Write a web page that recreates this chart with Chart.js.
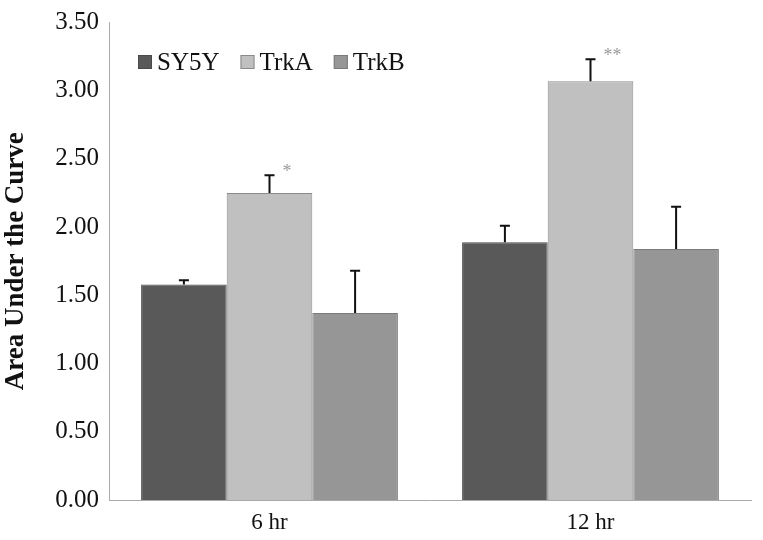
<!DOCTYPE html>
<html>
<head>
<meta charset="utf-8">
<script src="https://cdn.jsdelivr.net/npm/chart.js@4"></script>
<style>
html, body { margin: 0; padding: 0; background: #fff; }
#wrap { width: 763px; height: 540px; }
</style>
</head>
<body>
<div id="wrap"><canvas id="barChart" width="763" height="540"></canvas></div>
<script>
var categories = ["6 hr", "12 hr"];
var sy5y = [1.58, 1.89];
var trkA = [2.25, 3.07];
var trkB = [1.37, 1.84];
var sy5yErr = [0.03, 0.12];
var trkAErr = [0.13, 0.16];
var trkBErr = [0.31, 0.31];
var trkAMarks = ["*", "**"];

var serif = "'Liberation Serif', 'Times New Roman', serif";

// error bars (upper only) and significance marks
var errorBars = {
  id: 'errorBars',
  afterDatasetsDraw: function(chart) {
    var ctx = chart.ctx;
    var y = chart.scales.y;
    chart.data.datasets.forEach(function(ds, i) {
      var meta = chart.getDatasetMeta(i);
      meta.data.forEach(function(bar, j) {
        var top = y.getPixelForValue(ds.data[j] + ds.err[j]);
        ctx.save();
        ctx.strokeStyle = '#111';
        ctx.lineWidth = 2;
        ctx.beginPath();
        ctx.moveTo(bar.x, bar.y);
        ctx.lineTo(bar.x, top);
        ctx.moveTo(bar.x - 5, top);
        ctx.lineTo(bar.x + 5, top);
        ctx.stroke();
        if (ds.marks) {
          ctx.fillStyle = '#999';
          ctx.font = '18px ' + serif;
          ctx.textAlign = 'left';
          ctx.textBaseline = 'middle';
          ctx.fillText(ds.marks[j], bar.x + 13, top - 3);
        }
        ctx.restore();
      });
    });
  }
};

// horizontal legend inside the plot, top left
var insideLegend = {
  id: 'insideLegend',
  afterDraw: function(chart) {
    var ctx = chart.ctx;
    var x = chart.chartArea.left + 29;
    var cy = 62;
    ctx.save();
    ctx.font = '25px ' + serif;
    ctx.textBaseline = 'middle';
    ctx.textAlign = 'left';
    chart.data.datasets.forEach(function(ds) {
      ctx.fillStyle = ds.backgroundColor;
      ctx.fillRect(x, cy - 7, 14, 14);
      ctx.strokeStyle = ds.borderColor;
      ctx.lineWidth = 1;
      ctx.strokeRect(x + 0.5, cy - 6.5, 13, 13);
      ctx.fillStyle = '#111';
      ctx.fillText(ds.label, x + 19, cy + 1);
      x += 19 + ctx.measureText(ds.label).width + 21;
    });
    ctx.restore();
  }
};

var ctx = document.getElementById("barChart").getContext('2d');
var myBarChart = new Chart(ctx, {
  type: 'bar',
  data: {
    labels: categories,
    datasets: [{
      label: "SY5Y",
      data: sy5y,
      err: sy5yErr,
      backgroundColor: '#595959',
      borderColor: '#4a4a4a',
      borderWidth: 1
    },
    {
      label: "TrkA",
      data: trkA,
      err: trkAErr,
      marks: trkAMarks,
      backgroundColor: '#c0c0c0',
      borderColor: '#8a8a8a',
      borderWidth: 1
    },
    {
      label: "TrkB",
      data: trkB,
      err: trkBErr,
      backgroundColor: '#969696',
      borderColor: '#7a7a7a',
      borderWidth: 1
    }]
  },
  options: {
    responsive: false,
    animation: false,
    layout: { padding: { top: 20, right: 12, left: 0, bottom: 0 } },
    datasets: { bar: { categoryPercentage: 0.8, barPercentage: 1.0 } },
    plugins: {
      tooltip: { enabled: false },
      legend: { display: false }
    },
    scales: {
      x: {
        grid: { display: false, drawTicks: false },
        border: { color: '#aaaaaa', width: 1 },
        ticks: { color: '#111', font: { family: serif, size: 23 }, padding: 9 },
        afterFit: function(s) { s.height = 40; }
      },
      y: {
        min: 0,
        max: 3.5,
        grid: { display: false, drawTicks: false },
        border: { color: '#aaaaaa', width: 1 },
        ticks: {
          stepSize: 0.5,
          color: '#111',
          padding: 10,
          font: { family: serif, size: 25, lineHeight: 1 },
          callback: function(v) { return v.toFixed(2); }
        },
        title: {
          display: true,
          text: 'Area Under the Curve',
          color: '#111',
          font: { family: serif, size: 27, weight: 'bold' },
          padding: { top: 0, bottom: 0 }
        },
        afterFit: function(s) { s.width = 109; }
      }
    }
  },
  plugins: [errorBars, insideLegend]
});
</script>
</body>
</html>
